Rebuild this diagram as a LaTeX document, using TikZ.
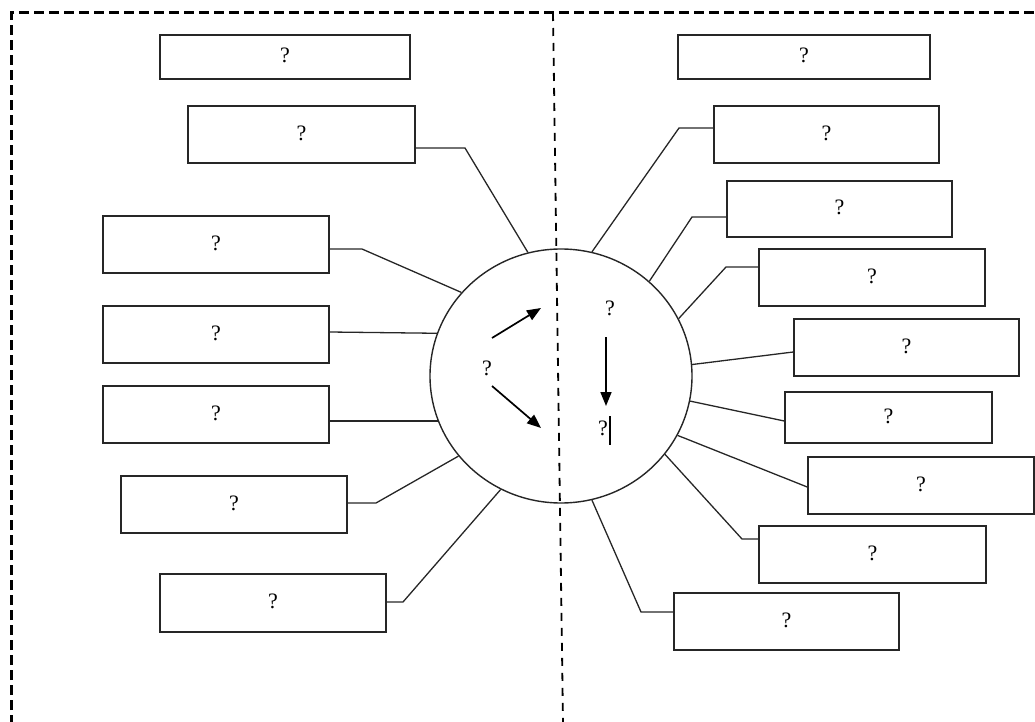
\documentclass[tikz,border=0pt]{standalone}
\usepackage{fontspec}
\setmainfont{Liberation Serif}
\usetikzlibrary{shapes.geometric,arrows.meta}
\begin{document}
\begin{tikzpicture}[x=1pt,y=-1pt,
  box/.style={draw=black!85,line width=1.5pt,rectangle,inner sep=0pt,font=\fontsize{22}{26}\selectfont,text depth=3pt},
  link/.style={draw=black!85,line width=1.3pt},
  qm/.style={inner sep=0pt,font=\fontsize{22}{26}\selectfont},
  arr/.style={line width=1.7pt,-{Triangle[length=14pt,width=11pt]}},
  frame/.style={line width=3pt,dash pattern=on 10pt off 5pt},
  divider/.style={line width=1.8pt,dash pattern=on 8pt off 7pt}]
\useasboundingbox (0,0) rectangle (1035,722);
\clip (0,0) rectangle (1035,722);
% frame and divider
\coordinate (f1) at (11,740);
\coordinate (f2) at (11,13);
\coordinate (f3) at (1050,13);
\draw[frame] (f1) -- (f2) -- (f3);
\coordinate (d1) at (553,13);
\coordinate (d2) at (563,722);
% central circle
\node[ellipse,draw=black!85,line width=1.4pt,minimum width=262pt,minimum height=254pt,inner sep=0pt] (C) at (561,376) {};
\draw[divider] (d1) -- (d2);
% left boxes
\node[box,minimum width=250pt,minimum height=44pt] (L1) at (285,57) {?};
\node[box,minimum width=227pt,minimum height=57pt] (L2) at (301.5,134.5) {?};
\node[box,minimum width=226pt,minimum height=57pt] (L3) at (216,244.5) {?};
\node[box,minimum width=226pt,minimum height=57pt] (L4) at (216,334.5) {?};
\node[box,minimum width=226pt,minimum height=57pt] (L5) at (216,414.5) {?};
\node[box,minimum width=226pt,minimum height=57pt] (L6) at (234,504.5) {?};
\node[box,minimum width=226pt,minimum height=58pt] (L7) at (273,603) {?};
% right boxes
\node[box,minimum width=252pt,minimum height=44pt] (R1) at (804,57) {?};
\node[box,minimum width=225pt,minimum height=57pt] (R2) at (826.5,134.5) {?};
\node[box,minimum width=225pt,minimum height=56pt] (R3) at (839.5,209) {?};
\node[box,minimum width=226pt,minimum height=57pt] (R4) at (872,277.5) {?};
\node[box,minimum width=225pt,minimum height=57pt] (R5) at (906.5,347.5) {?};
\node[box,minimum width=207pt,minimum height=51pt] (R6) at (888.5,417.5) {?};
\node[box,minimum width=226pt,minimum height=57pt] (R7) at (921,485.5) {?};
\node[box,minimum width=227pt,minimum height=57pt] (R8) at (872.5,554.5) {?};
\node[box,minimum width=225pt,minimum height=57pt] (R9) at (786.5,621.5) {?};
% elbows
\coordinate (k2) at (465,148);
\coordinate (k3) at (362,249);
\coordinate (k6) at (376,503);
\coordinate (k7) at (403,602);
\coordinate (m2) at (679,128);
\coordinate (m3) at (692,217);
\coordinate (m4) at (726,267);
\coordinate (m8) at (742,539);
\coordinate (m9) at (641,612);
% left connectors
\draw[link] (L2.east |- k2) -- (k2) -- (C.105);
\draw[link] (L3.east |- k3) -- (k3) -- (C.140);
\draw[link] ([yshift=2.5pt]L4.east) -- (C.161);
\draw[link] (L5.east |- C.200) -- (C.200);
\draw[link] (L6.east |- k6) -- (k6) -- (C.218);
\draw[link] (L7.east |- k7) -- (k7) -- (C.242);
% right connectors
\draw[link] (R2.west |- m2) -- (m2) -- (C.76);
\draw[link] (R3.west |- m3) -- (m3) -- (C.47.5);
\draw[link] (R4.west |- m4) -- (m4) -- (C.26);
\draw[link] ([yshift=-4.5pt]R5.west) -- (C.5);
\draw[link] ([yshift=-3.5pt]R6.west) -- (C.-11);
\draw[link] ([yshift=-1.5pt]R7.west) -- (C.-27);
\draw[link] (R8.west |- m8) -- (m8) -- (C.-37.6);
\draw[link] (R9.west |- m9) -- (m9) -- (C.-76);
% inside the circle
\node[qm] (q0) at (487,368) {?};
\node[qm] (q1) at (610,308) {?};
\node[qm] (q2) at (603,428) {?};
\coordinate (a1s) at (492,338);
\coordinate (a1e) at (541,308);
\coordinate (a2s) at (492,386);
\coordinate (a2e) at (541,428);
\coordinate (a3s) at (606,337);
\coordinate (a3e) at (606,406);
\draw[arr] (a1s) -- (a1e);
\draw[arr] (a2s) -- (a2e);
\draw[arr] (a3s) -- (a3e);
\coordinate (c1) at (610,416);
\coordinate (c2) at (610,445);
\draw[line width=1.2pt] (c1) -- (c2);
\end{tikzpicture}
\end{document}
